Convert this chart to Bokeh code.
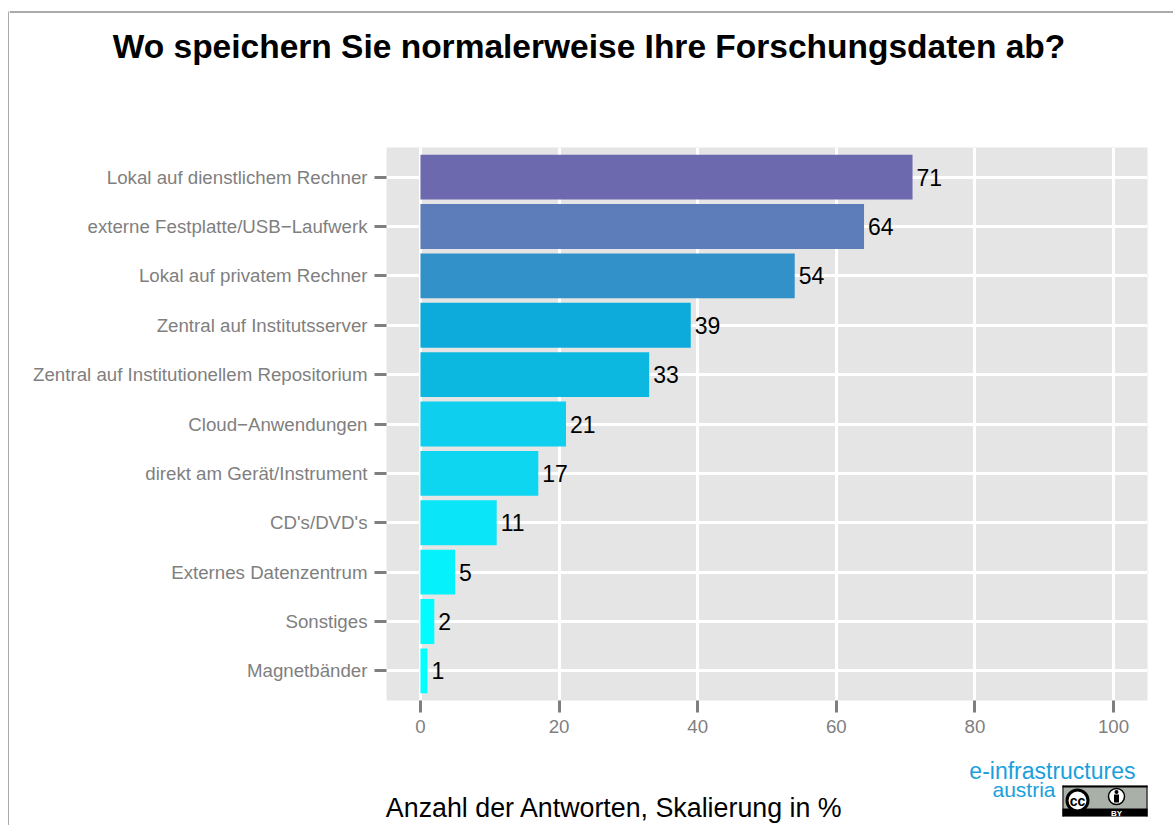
from bokeh.plotting import figure
from bokeh.layouts import row, column
from bokeh.models import FactorRange, Range1d, ColumnDataSource, FixedTicker
from bokeh.core.properties import value
from bokeh.embed import file_html
from bokeh.resources import INLINE

categories = ["Magnetbänder", "Sonstiges", "Externes Datenzentrum", "CD's/DVD's",
              "direkt am Gerät/Instrument", "Cloud−Anwendungen",
              "Zentral auf Institutionellem Repositorium", "Zentral auf Institutsserver",
              "Lokal auf privatem Rechner", "externe Festplatte/USB−Laufwerk",
              "Lokal auf dienstlichem Rechner"]
values = [1, 2, 5, 11, 17, 21, 33, 39, 54, 64, 71]
colors = ["#00FFFF", "#02FBFE", "#05F2FC", "#0AE6F8", "#0ED5F0", "#0ECFEE",
          "#0CB8DF", "#0CABDB", "#3291C8", "#5C7DB9", "#6D69AF"]
x_ticks = [0, 20, 40, 60, 80, 100]
title_text = "Wo speichern Sie normalerweise Ihre Forschungsdaten ab?"
xlabel_text = "Anzahl der Antworten, Skalierung in %"

FONT = "Liberation Sans"
GREY = "#7F7F7F"
FRAME = "#555555"
W, H = 1173, 825
STRIP = 9          # left strip that carries the page frame line
TOP_END = 90       # page y where the chart figure starts
MAIN_END = 740     # page y where the chart figure ends
L, T, R, B = 386, 147, 1147, 700  # plot area in page pixels


def blank(width, height, x0, x1, y_bottom, y_top):
    """A borderless figure whose data coordinates are page pixels."""
    f = figure(width=width, height=height, output_backend="svg", toolbar_location=None,
               x_range=Range1d(x0, x1), y_range=Range1d(y_bottom, y_top),
               x_axis_type=None, y_axis_type=None, frame_align=False,
               min_border_left=0, min_border_right=0, min_border_top=0, min_border_bottom=0)
    f.outline_line_color = None
    f.background_fill_color = "white"
    f.border_fill_color = "white"
    f.grid.visible = False
    return f


def put_text(f, x, y, text, size, color="#000000", style="normal", align="left", baseline="alphabetic"):
    f.text(x=[x], y=[y], text=[text], text_font=value(FONT), text_font_size=size, text_color=color,
           text_font_style=style, text_align=align, text_baseline=baseline)


# left strip: vertical line of the page frame
strip = blank(STRIP, H, 0, STRIP, H, 0)
strip.segment(x0=[8.5], y0=[11], x1=[8.5], y1=[H], line_color=FRAME, line_width=1)

# top band: frame line and title
top = blank(W - STRIP, TOP_END, STRIP, W, TOP_END, 0)
top.segment(x0=[STRIP], y0=[11.5], x1=[W], y1=[11.5], line_color=FRAME, line_width=1)
put_text(top, 588.5, 46, title_text, "33.5px", style="bold", align="center")

# chart
p = figure(width=W - STRIP, height=MAIN_END - TOP_END, output_backend="svg", toolbar_location=None,
           y_range=FactorRange(factors=categories, range_padding=0.2 / 11, factor_padding=0),
           x_range=Range1d(-4.9, 104.9), frame_align=False,
           min_border_left=L - STRIP, min_border_right=W - R,
           min_border_top=T - TOP_END, min_border_bottom=MAIN_END - B)
p.outline_line_color = None
p.background_fill_color = "#E5E5E5"
p.border_fill_color = "white"

src = ColumnDataSource(dict(cat=categories, val=values, col=colors, lab=[str(v) for v in values]))
p.hbar(y="cat", right="val", left=0, height=0.91, fill_color="col", line_color=None, source=src)
p.text(x="val", y="cat", text="lab", x_offset=4, text_baseline="middle", text_align="left",
       text_font=value(FONT), text_font_size="23px", text_color="#000000", source=src)

for g in (p.xgrid, p.ygrid):
    g.grid_line_color = "white"
    g.grid_line_width = 3
    g.level = "underlay"

p.xaxis.ticker = FixedTicker(ticks=x_ticks)
p.xaxis.minor_tick_line_color = None
for ax in (p.xaxis, p.yaxis):
    ax.axis_line_color = None
    ax.major_tick_line_color = GREY
    ax.major_tick_line_width = 3
    ax.major_tick_in = 0
    ax.major_tick_out = 12
    ax.major_label_text_color = GREY
    ax.major_label_text_font = FONT
    ax.major_label_text_font_size = "18.7px"
    ax.major_label_standoff = 7

# bottom band: axis title, logo, CC BY badge
bot = blank(W - STRIP, H - MAIN_END, STRIP, W, H, MAIN_END)
put_text(bot, 614, 807, xlabel_text, "26.8px", align="center")
put_text(bot, 1135, 770.5, "e-infrastructures", "23px", color="#1AA0DC", align="right")
put_text(bot, 1055, 789, "austria", "21px", color="#1AA0DC", align="right")

bot.quad(left=[1062], right=[1147], top=[785], bottom=[816], fill_color="#A9B0A8", line_color=None)
bot.quad(left=[1062], right=[1147], top=[808], bottom=[816], fill_color="#000000", line_color=None)
bot.quad(left=[1062], right=[1147], top=[785], bottom=[787], fill_color="#000000", line_color=None)
bot.quad(left=[1062], right=[1063], top=[785], bottom=[816], fill_color="#000000", line_color=None)
bot.quad(left=[1146], right=[1147], top=[785], bottom=[816], fill_color="#000000", line_color=None)
bot.scatter(x=[1077], y=[800], size=21, marker="circle", fill_color="#FFFFFF", line_color="#000000", line_width=3)
put_text(bot, 1077, 800.5, "cc", "14px", style="bold", align="center", baseline="middle")
bot.scatter(x=[1116], y=[796], size=16, marker="circle", fill_color="#FFFFFF", line_color="#000000", line_width=1.5)
bot.scatter(x=[1116], y=[791.5], size=4, marker="circle", fill_color="#000000", line_color=None)
bot.quad(left=[1113.5], right=[1118.5], top=[794], bottom=[802], fill_color="#000000", line_color=None)
put_text(bot, 1116, 812.5, "BY", "8px", color="#FFFFFF", style="bold", align="center", baseline="middle")

page = row(strip, column(top, p, bot, spacing=0), spacing=0)
open("out.html", "w").write(file_html(page, INLINE))
